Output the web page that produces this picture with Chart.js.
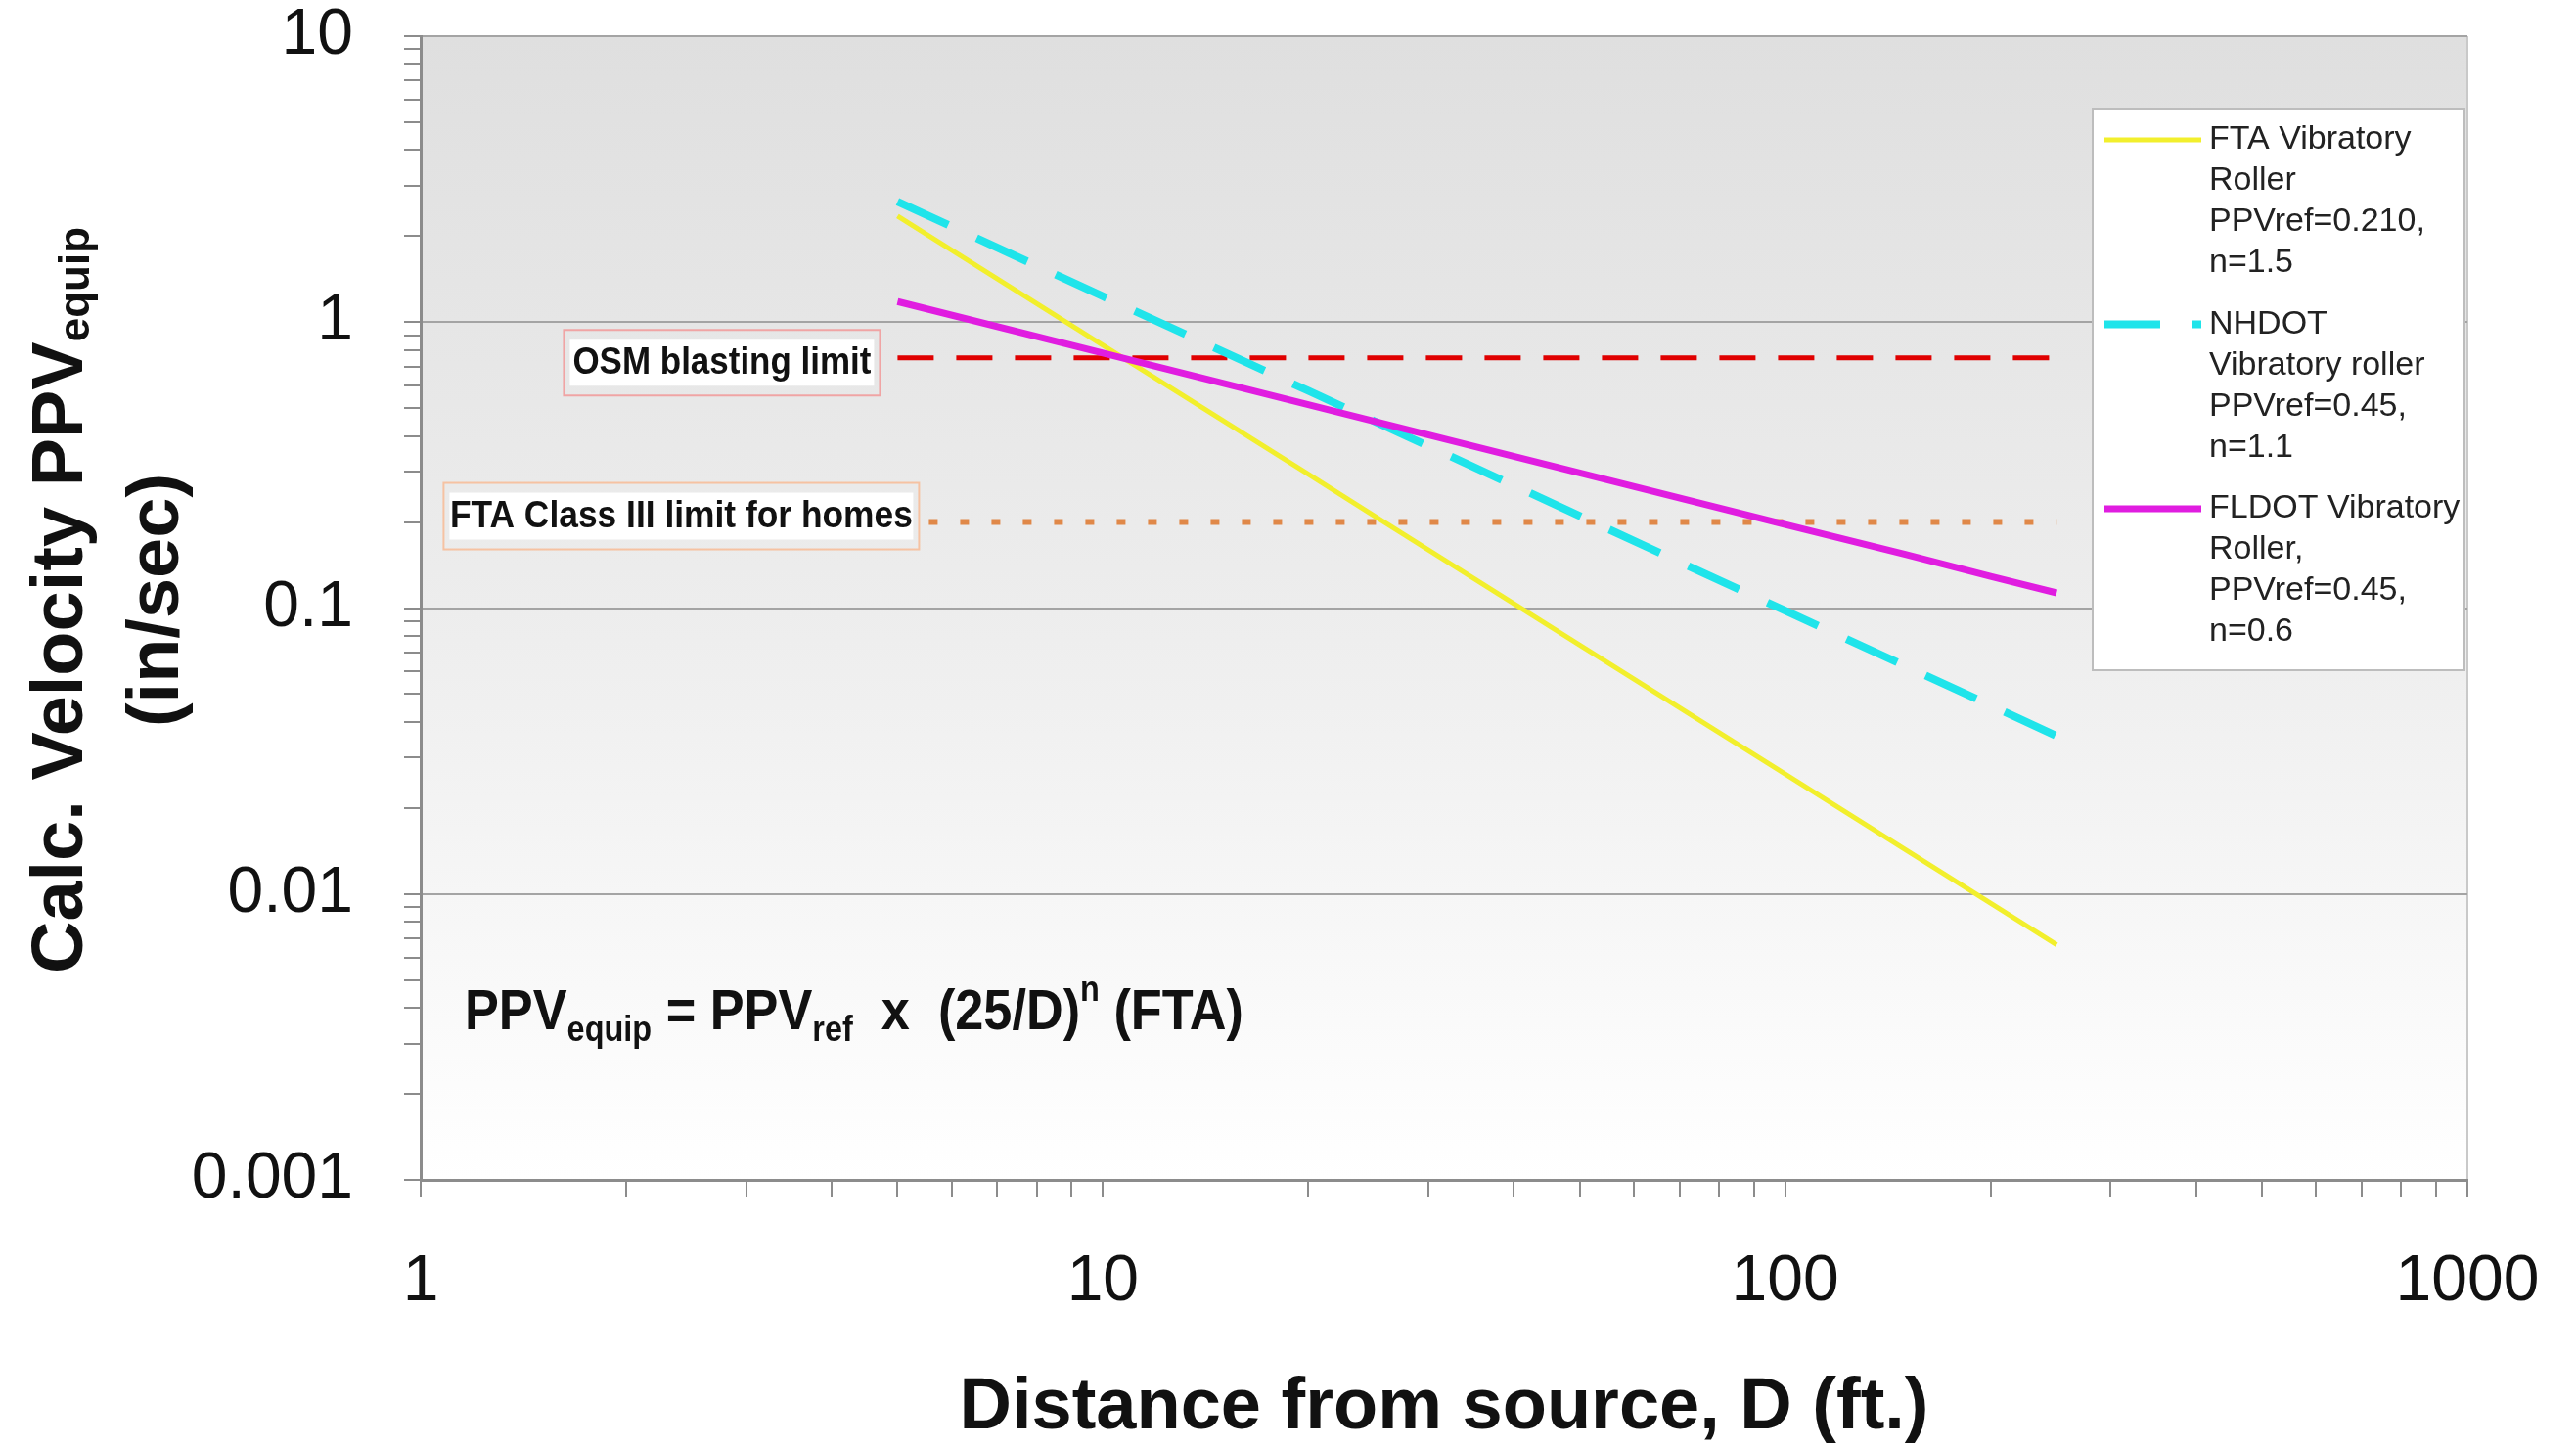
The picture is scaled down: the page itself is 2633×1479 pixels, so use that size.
<!DOCTYPE html>
<html>
<head>
<meta charset="utf-8">
<title>Calculated PPV vs distance</title>
<script src="https://cdn.jsdelivr.net/npm/chart.js@4.4.1/dist/chart.umd.min.js"></script>
<style>
  html, body { margin: 0; padding: 0; background: #fff; }
  #wrap { width: 2633px; height: 1479px; }
</style>
</head>
<body>
<div id="wrap"><canvas id="c" width="2633" height="1479"></canvas></div>
<script>
// distances (ft) the curves were plotted at
const distance = [5, 10, 20, 25, 50, 100, 150, 200, 250];

// calculated PPV (in/sec) for each roller curve
const ftaRoller   = [2.35, 0.830, 0.294, 0.210, 0.0742, 0.0263, 0.0143, 0.00928, 0.00664];
const nhdotRoller = [2.64, 1.23, 0.575, 0.450, 0.210, 0.0979, 0.0627, 0.0457, 0.0357];
const fldotRoller = [1.18, 0.780, 0.514, 0.450, 0.297, 0.196, 0.154, 0.129, 0.113];

// horizontal limit lines
const limitRange = [5, 250];
const osmLimit   = [0.75, 0.75];
const ftaLimit   = [0.2, 0.2];

// labelled decades on each axis
const xDecades = [1, 10, 100, 1000];
const yDecades = [0.001, 0.01, 0.1, 1, 10];

// legend wording, wrapped as in the original
const legendText = [
  ['FTA Vibratory', 'Roller', 'PPVref=0.210,', 'n=1.5'],
  ['NHDOT', 'Vibratory roller', 'PPVref=0.45,', 'n=1.1'],
  ['FLDOT Vibratory', 'Roller,', 'PPVref=0.45,', 'n=0.6']
];

const FONT = '"Liberation Sans", Arial, Helvetica, sans-serif';

const pts = (xs, ys) => xs.map((x, i) => ({ x: x, y: ys[i] }));

// decades plus the 2..9 minor ticks between them
function logTicks(decades) {
  const out = [];
  decades.forEach((d, i) => {
    out.push({ value: d, major: true });
    if (i < decades.length - 1) {
      for (let m = 2; m <= 9; m++) out.push({ value: d * m, major: false });
    }
  });
  return out;
}

const tickLabel = (v, i, ticks) => ticks[i].major ? String(v) : '';

// keep the plot box fixed: no extra room for label overhang
function fixBox(s, size) {
  if (s.isHorizontal()) s.height = size; else s.width = size;
  s.paddingTop = 0; s.paddingBottom = 0; s.paddingLeft = 0; s.paddingRight = 0;
}

// text made of pieces: [text, sizeFactor, shift(em)]
function piecesWidth(ctx, pieces, size, weight) {
  let w = 0;
  pieces.forEach(p => {
    ctx.font = weight + ' ' + Math.round(size * p[1]) + 'px ' + FONT;
    p.w = ctx.measureText(p[0]).width;
    w += p.w;
  });
  return w;
}

function drawPieces(ctx, pieces, size, weight, x, y, targetWidth) {
  const w = piecesWidth(ctx, pieces, size, weight);
  const sx = targetWidth ? targetWidth / w : 1;
  ctx.save();
  ctx.translate(x, y);
  ctx.scale(sx, 1);
  let cx = 0;
  pieces.forEach(p => {
    ctx.font = weight + ' ' + Math.round(size * p[1]) + 'px ' + FONT;
    ctx.fillText(p[0], cx, p[2] * size);
    cx += p.w;
  });
  ctx.restore();
}

// gradient plot background
const backdrop = {
  id: 'backdrop',
  beforeDraw(chart) {
    const { ctx, chartArea: a } = chart;
    const g = ctx.createLinearGradient(0, a.top, 0, a.bottom);
    g.addColorStop(0, '#dfdfdf');
    g.addColorStop(0.5, '#ededed');
    g.addColorStop(1, '#ffffff');
    ctx.save();
    ctx.fillStyle = g;
    ctx.fillRect(a.left, a.top, a.right - a.left, a.bottom - a.top);
    ctx.restore();
  }
};

// limit labels, formula, legend box
const notes = {
  id: 'notes',
  afterDatasetsDraw(chart) {
    const { ctx, chartArea: a, scales } = chart;
    const xs = scales.x, ys = scales.y;
    ctx.save();
    ctx.fillStyle = '#111';
    ctx.textBaseline = 'middle';
    ctx.textAlign = 'left';

    // labelled boxes next to the limit lines
    const boxes = [
      { text: 'OSM blasting limit', right: xs.getPixelForValue(limitRange[0]) - 18,
        cy: ys.getPixelForValue(osmLimit[0]) + 5, w: 323, h: 67, tw: 305, edge: '#f0a4a4' },
      { text: 'FTA Class III limit for homes', right: xs.getPixelForValue(limitRange[0]) + 22,
        cy: ys.getPixelForValue(ftaLimit[0]) - 6, w: 486, h: 68, tw: 473, edge: '#f6c2a2' }
    ];
    boxes.forEach(b => {
      const l = b.right - b.w, t = b.cy - b.h / 2;
      ctx.fillStyle = '#ffffff';
      ctx.fillRect(l + 6, t + 10, b.w - 12, b.h - 20);
      ctx.strokeStyle = b.edge;
      ctx.lineWidth = 2;
      ctx.setLineDash([]);
      ctx.strokeRect(l, t, b.w, b.h);
      ctx.fillStyle = '#111';
      drawPieces(ctx, [[b.text, 1, 0]], 38, 'bold', l + (b.w - b.tw) / 2, b.cy + 1, b.tw);
    });

    // formula
    ctx.textBaseline = 'alphabetic';
    drawPieces(ctx, [
      ['PPV', 1, 0], ['equip', 0.62, 0.2], [' = PPV', 1, 0], ['ref', 0.62, 0.2],
      ['  x  (25/D)', 1, 0], ['n', 0.62, -0.5], [' (FTA)', 1, 0]
    ], 58, 'bold', 475, 1052, 796);

    // legend
    const L = { left: a.right - 383, top: a.top + 74, right: a.right - 3, bottom: a.top + 648 };
    ctx.fillStyle = '#ffffff';
    ctx.fillRect(L.left, L.top, L.right - L.left, L.bottom - L.top);
    ctx.strokeStyle = '#bdbdbd';
    ctx.lineWidth = 2;
    ctx.strokeRect(L.left, L.top, L.right - L.left, L.bottom - L.top);
    ctx.font = '34px ' + FONT;
    ctx.textBaseline = 'middle';
    legendText.forEach((lines, i) => {
      const ds = chart.data.datasets[i];
      const y0 = L.top + 32 + i * 188.5;
      ctx.strokeStyle = ds.borderColor;
      ctx.lineWidth = ds.borderWidth;
      ctx.setLineDash(ds.borderDash || []);
      ctx.lineCap = 'butt';
      ctx.beginPath();
      ctx.moveTo(L.left + 12, y0);
      ctx.lineTo(L.left + 111, y0);
      ctx.stroke();
      ctx.setLineDash([]);
      ctx.fillStyle = '#222';
      lines.forEach((s, k) => ctx.fillText(s, L.left + 119, y0 + k * 42));
    });
    ctx.restore();
  },

  // y axis title with subscript
  afterDraw(chart) {
    const { ctx, chartArea: a } = chart;
    const cy = (a.top + a.bottom) / 2 - 8;
    const line1 = [['Calc. Velocity PPV', 1, 0], ['equip', 0.6, 0.1]];
    const line2 = [['(in/sec)', 1, 0]];
    ctx.save();
    ctx.fillStyle = '#111';
    ctx.textBaseline = 'alphabetic';
    [[line1, 84], [line2, 182]].forEach(([pieces, bx]) => {
      const w = piecesWidth(ctx, pieces, 74, 'bold');
      ctx.save();
      ctx.translate(bx, cy);
      ctx.rotate(-Math.PI / 2);
      drawPieces(ctx, pieces, 74, 'bold', -w / 2, 0);
      ctx.restore();
    });
    ctx.restore();
  }
};

new Chart(document.getElementById('c'), {
  type: 'line',
  data: {
    datasets: [
      { label: 'FTA Vibratory Roller', data: pts(distance, ftaRoller),
        borderColor: '#f2ef2c', borderWidth: 5, order: 3 },
      { label: 'NHDOT Vibratory roller', data: pts(distance, nhdotRoller),
        borderColor: '#1fe4ea', borderWidth: 8, borderDash: [57, 32], order: 2 },
      { label: 'FLDOT Vibratory Roller', data: pts(distance, fldotRoller),
        borderColor: '#e01de0', borderWidth: 7, order: 1 },
      { label: 'OSM blasting limit', data: pts(limitRange, osmLimit),
        borderColor: '#e00000', borderWidth: 5, borderDash: [37, 23], order: 4 },
      { label: 'FTA Class III limit for homes', data: pts(limitRange, ftaLimit),
        borderColor: '#e08848', borderWidth: 6, borderDash: [9, 23], order: 5 }
    ]
  },
  options: {
    responsive: false,
    animation: false,
    layout: { padding: { top: 37, right: 111, left: 0, bottom: 0 } },
    elements: {
      point: { radius: 0, hoverRadius: 0 },
      line: { tension: 0, borderCapStyle: 'butt', fill: false }
    },
    plugins: { legend: { display: false }, tooltip: { enabled: false } },
    scales: {
      x: {
        type: 'logarithmic', position: 'bottom', min: 1, max: 1000,
        afterBuildTicks: s => { s.ticks = logTicks(xDecades); },
        afterFit: s => fixBox(s, 273),
        grid: {
          color: c => (c.tick && c.tick.value === 1000) ? '#c9c9c9' : 'rgba(0,0,0,0)',
          lineWidth: 2, tickColor: '#8c8c8c', tickLength: 17, tickWidth: 2
        },
        border: { color: '#8c8c8c', width: 3 },
        ticks: {
          autoSkip: false, maxRotation: 0, padding: 48, color: '#111',
          font: { family: FONT, size: 66 }, callback: tickLabel
        },
        title: {
          display: true, text: 'Distance from source, D (ft.)', color: '#111',
          font: { family: FONT, size: 74, weight: 'bold', lineHeight: 1 },
          padding: { top: 0, bottom: 2 }
        }
      },
      y: {
        type: 'logarithmic', position: 'left', min: 0.001, max: 10,
        afterBuildTicks: s => { s.ticks = logTicks(yDecades); },
        afterFit: s => fixBox(s, 430),
        grid: {
          color: c => (c.tick && c.tick.major) ? '#a4a4a4' : 'rgba(0,0,0,0)',
          lineWidth: 2, tickColor: '#8c8c8c', tickLength: 17, tickWidth: 2
        },
        border: { color: '#8c8c8c', width: 3 },
        ticks: {
          autoSkip: false, padding: 52, color: '#111',
          font: { family: FONT, size: 66 }, callback: tickLabel
        }
      }
    }
  },
  plugins: [backdrop, notes]
});
</script>
</body>
</html>
